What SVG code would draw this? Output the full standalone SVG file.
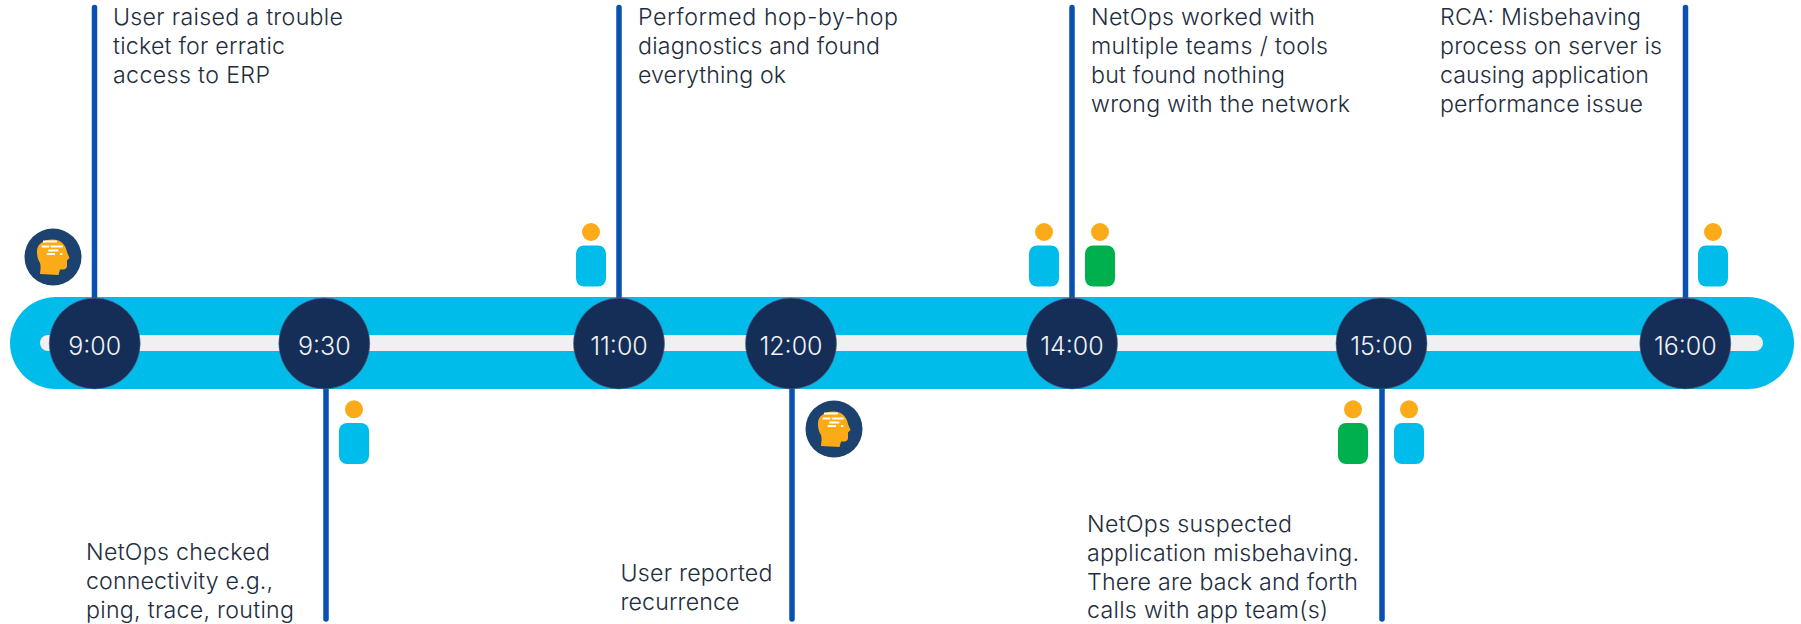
<svg xmlns="http://www.w3.org/2000/svg" width="1801" height="624" viewBox="0 0 1801 624">
<style>
.bar{fill:#00bceb}.track{fill:#f0f0f0}.hub{fill:#142e57;stroke:#5a6d8c;stroke-width:.6}
.hub-t{font:300 25px Inter,"Liberation Sans",sans-serif;fill:#f0f2f5;text-anchor:middle}
.lbl{font:300 23.2px Inter,"Liberation Sans",sans-serif;fill:#1f2d3d}
.conn{stroke:#0a50b0;stroke-width:5.5;fill:none;stroke-linecap:round}
.head{fill:#fbab18}.blue{fill:#00bceb}.green{fill:#00b04f}
.bubble{fill:#1c4270}.face{fill:#fbab18}.spark{stroke:#fff;stroke-width:2;fill:none}
</style>
<defs>
<g id="brain">
<circle cx="0" cy="0" r="28.5" class="bubble"/>
<path class="face" d="M-1-17.500C9-17.500 13-11 14-5L16.500 1 14 3.500 14 9C14 12 11 13 7 12.500L5.500 18-13 17C-12.500 12-12 9-13 6-16 1-16 -3-16 -6-16-13-9-17.500-1-17.500Z"/>
<path class="spark" d="M-10-15.500H4M-11.300-10.500H-3.700M-2.300-10.500H9.700M-4.700-6.500H5.300M-6.300-3H2M7-3H9.300"/>
</g>
</defs>
<g id="timeline"><rect class="bar" x="10" y="297" width="1784" height="92" rx="46"/><rect class="track" x="40" y="335" width="1723" height="16" rx="8"/></g>
<g id="connectors">
<path class="conn" d="M94.5 7.500V300M326 385V619M619 7.500V300M792 385V619M1072 7.500V300M1382 385V619M1685.500 7.500V300"/>
</g>
<g id="n900"><circle class="hub" cx="94.700" cy="343.500" r="45.500"/><text class="hub-t" x="94.700" y="355">9:00</text>
<text class="lbl" x="113" y="25" textLength="230">User raised a trouble</text>
<text class="lbl" x="113" y="54" textLength="172">ticket for erratic</text>
<text class="lbl" x="113" y="83" textLength="157">access to ERP</text>
<use href="#brain" x="53" y="257"/></g>
<g id="n930"><circle class="hub" cx="324.300" cy="343.500" r="45.500"/><text class="hub-t" x="324.300" y="355">9:30</text>
<text class="lbl" x="86" y="560" textLength="184">NetOps checked</text>
<text class="lbl" x="86" y="589" textLength="187">connectivity e.g.,</text>
<text class="lbl" x="86" y="618" textLength="208">ping, trace, routing</text>
<circle class="head" cx="354" cy="409.300" r="9"/><rect class="blue" x="339" y="423" width="30" height="41" rx="8"/></g>
<g id="n1100"><circle class="hub" cx="619" cy="343.500" r="45.500"/><text class="hub-t" x="619" y="355">11:00</text>
<text class="lbl" x="638" y="25" textLength="260">Performed hop-by-hop</text>
<text class="lbl" x="638" y="54" textLength="242">diagnostics and found</text>
<text class="lbl" x="638" y="83" textLength="148">everything ok</text>
<circle class="head" cx="591" cy="232" r="9"/><rect class="blue" x="576" y="245.500" width="30" height="41" rx="8"/></g>
<g id="n1200"><circle class="hub" cx="791" cy="343.500" r="45.500"/><text class="hub-t" x="791" y="355">12:00</text>
<text class="lbl" x="620.500" y="581" textLength="152">User reported</text>
<text class="lbl" x="620.500" y="610" textLength="119">recurrence</text>
<use href="#brain" x="834" y="429"/></g>
<g id="n1400"><circle class="hub" cx="1072" cy="343.500" r="45.500"/><text class="hub-t" x="1072" y="355">14:00</text>
<text class="lbl" x="1091" y="25" textLength="224">NetOps worked with</text>
<text class="lbl" x="1091" y="54" textLength="237">multiple teams / tools</text>
<text class="lbl" x="1091" y="83" textLength="194">but found nothing</text>
<text class="lbl" x="1091" y="112" textLength="259">wrong with the network</text>
<circle class="head" cx="1044" cy="232" r="9"/><rect class="blue" x="1029" y="245.500" width="30" height="41" rx="8"/><circle class="head" cx="1100" cy="232" r="9"/><rect class="green" x="1085" y="245.500" width="30" height="41" rx="8"/></g>
<g id="n1500"><circle class="hub" cx="1381.500" cy="343.500" r="45.500"/><text class="hub-t" x="1381.500" y="355">15:00</text>
<text class="lbl" x="1087" y="531.500" textLength="205">NetOps suspected</text>
<text class="lbl" x="1087" y="560.500" textLength="272">application misbehaving.</text>
<text class="lbl" x="1087" y="589.500" textLength="271">There are back and forth</text>
<text class="lbl" x="1087" y="618" textLength="241">calls with app team(s)</text>
<circle class="head" cx="1353" cy="409.300" r="9"/><rect class="green" x="1338" y="423" width="30" height="41" rx="8"/><circle class="head" cx="1409" cy="409.300" r="9"/><rect class="blue" x="1394" y="423" width="30" height="41" rx="8"/></g>
<g id="n1600"><circle class="hub" cx="1685.300" cy="343.500" r="45.500"/><text class="hub-t" x="1685.300" y="355">16:00</text>
<text class="lbl" x="1440" y="25" textLength="201">RCA: Misbehaving</text>
<text class="lbl" x="1440" y="54" textLength="222">process on server is</text>
<text class="lbl" x="1440" y="83" textLength="209">causing application</text>
<text class="lbl" x="1440" y="112" textLength="203">performance issue</text>
<circle class="head" cx="1713" cy="232" r="9"/><rect class="blue" x="1698" y="245.500" width="30" height="41" rx="8"/></g>
</svg>
